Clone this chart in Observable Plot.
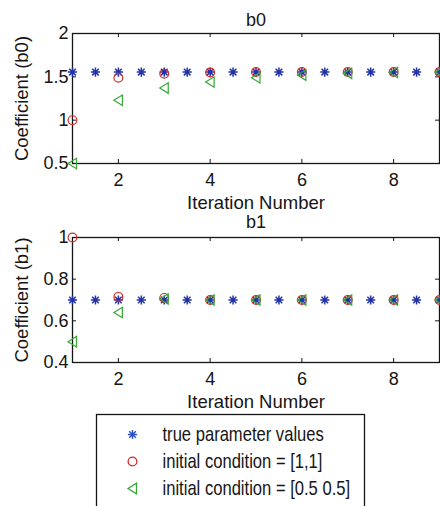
<!DOCTYPE html>
<html><head><meta charset="utf-8">
<script src="https://cdn.jsdelivr.net/npm/d3@7"></script>
<script src="https://cdn.jsdelivr.net/npm/@observablehq/plot@0.6"></script>
<style>
body{margin:0;background:#fff;}
#root{position:relative;width:440px;height:506px;overflow:hidden;background:#fff;}
#root > svg{position:absolute;left:0;}
</style></head><body><div id="root"></div>
<script>
// ---- data ----
const iterations = [1, 2, 3, 4, 5, 6, 7, 8, 9];
const truthSteps = [1, 1.5, 2, 2.5, 3, 3.5, 4, 4.5, 5, 5.5, 6, 6.5, 7, 7.5, 8, 8.5, 9];
const b0True = [1.555, 1.555, 1.555, 1.555, 1.555, 1.555, 1.555, 1.555, 1.555, 1.555, 1.555, 1.555, 1.555, 1.555, 1.555, 1.555, 1.555];
const b0Ic1 = [1.0, 1.49, 1.535, 1.55, 1.555, 1.555, 1.555, 1.555, 1.555];
const b0Ic2 = [0.5, 1.23, 1.37, 1.44, 1.49, 1.52, 1.54, 1.55, 1.555];
const b1True = [0.70, 0.70, 0.70, 0.70, 0.70, 0.70, 0.70, 0.70, 0.70, 0.70, 0.70, 0.70, 0.70, 0.70, 0.70, 0.70, 0.70];
const b1Ic1 = [1.0, 0.715, 0.71, 0.70, 0.70, 0.70, 0.70, 0.70, 0.70];
const b1Ic2 = [0.5, 0.64, 0.705, 0.70, 0.70, 0.70, 0.70, 0.70, 0.70];
const xTicks = [2, 4, 6, 8];
const b0Ticks = [0.5, 1, 1.5, 2];
const b1Ticks = [0.4, 0.6, 0.8, 1];
const legendLabels = ["true parameter values", "initial condition = [1,1]", "initial condition = [0.5 0.5]"];
const xLabel = "Iteration Number";

// ---- styles ----
const FONT = "'Liberation Sans', Arial, Helvetica, sans-serif";
const BLUE = "#2233a8", RED = "#d42a2a", GREEN = "#36a836", INK = "#151515";

const star8 = {draw(ctx, size) {
  const r = Math.sqrt(size / Math.PI), d = r * 0.72;
  ctx.moveTo(-r, 0); ctx.lineTo(r, 0);
  ctx.moveTo(0, -r); ctx.lineTo(0, r);
  ctx.moveTo(-d, -d); ctx.lineTo(d, d);
  ctx.moveTo(-d, d); ctx.lineTo(d, -d);
}};
const triLeft = {draw(ctx, size) {
  const r = Math.sqrt(size / Math.PI);
  ctx.moveTo(-r * 0.9, 0); ctx.lineTo(r * 0.8, -r * 1.05); ctx.lineTo(r * 0.8, r * 1.05); ctx.closePath();
}};

function panel({title, ylabel, domain, ticks, truth, ic1, ic2, top, height, mt, mb, titleDy}) {
  const ml = 72, mr = 1, width = 440;
  const ph = height - mt - mb, pw = width - ml - mr;
  const svg = Plot.plot({
    width, height, marginTop: mt, marginBottom: mb, marginLeft: ml, marginRight: mr,
    x: {domain: [1, 9]},
    y: {domain},
    style: `font-family: ${FONT}; font-size: 18px; color: ${INK}; background: transparent; overflow: visible;`,
    marks: [
      Plot.axisX(xTicks, {tickSize: 0, tickPadding: 10, fontSize: 18, fontFamily: FONT, label: null, tickFormat: d => String(d)}),
      Plot.axisY(ticks, {tickSize: 0, tickPadding: 4, fontSize: 18, fontFamily: FONT, label: null, tickFormat: d => String(d)}),
      Plot.tickX(xTicks, {x: d => d, insetTop: ph - 4, stroke: INK}),
      Plot.tickX(xTicks, {x: d => d, insetBottom: ph - 4, stroke: INK}),
      Plot.tickY(ticks, {y: d => d, insetRight: pw - 4, stroke: INK}),
      Plot.tickY(ticks, {y: d => d, insetLeft: pw - 4, stroke: INK}),
      Plot.frame({stroke: INK, strokeWidth: 1.3}),
      Plot.text([title], {text: d => d, frameAnchor: "top", dy: titleDy, lineAnchor: "bottom", fontSize: 18, fontFamily: FONT}),
      Plot.text([ylabel], {text: d => d, frameAnchor: "left", rotate: -90, dx: -50, textAnchor: "middle", lineAnchor: "middle", fontSize: 18.5, fontFamily: FONT}),
      Plot.text([xLabel], {text: d => d, frameAnchor: "bottom", dy: 45, lineAnchor: "bottom", fontSize: 18.5, fontFamily: FONT}),
      Plot.dot(truth, {x: truthSteps, y: truth, symbol: star8, r: 4.6, fill: "none", stroke: BLUE, strokeWidth: 1.5}),
      Plot.dot(ic1, {x: iterations, y: ic1, symbol: "circle", r: 4.4, fill: "none", stroke: RED, strokeWidth: 1.2}),
      Plot.dot(ic2, {x: iterations, y: ic2, symbol: triLeft, r: 5, fill: "none", stroke: GREEN, strokeWidth: 1.2})
    ]
  });
  svg.style.top = top + "px";
  return svg;
}

const root = document.getElementById("root");
root.appendChild(panel({title: "b0", ylabel: "Coefficient (b0)", domain: [0.5, 2], ticks: b0Ticks,
  truth: b0True, ic1: b0Ic1, ic2: b0Ic2, top: 0, height: 215, mt: 33, mb: 52, titleDy: -8}));
root.appendChild(panel({title: "b1", ylabel: "Coefficient (b1)", domain: [0.4, 1], ticks: b1Ticks,
  truth: b1True, ic1: b1Ic1, ic2: b1Ic2, top: 200, height: 214, mt: 37, mb: 52, titleDy: -10}));

const legend = Plot.plot({
  width: 268, height: 100, margin: 0,
  x: {domain: [0, 1], axis: null},
  y: {type: "point", domain: legendLabels, range: [19, 74], padding: 0, axis: null},
  style: `font-family: ${FONT}; font-size: 20px; color: ${INK}; background: #fff; overflow: visible;`,
  marks: [
    Plot.frame({stroke: INK, strokeWidth: 1.3}),
    Plot.dot([legendLabels[0]], {y: d => d, frameAnchor: "left", dx: 36, symbol: star8, r: 4.6, fill: "none", stroke: "#3050c8", strokeWidth: 1.4}),
    Plot.dot([legendLabels[1]], {y: d => d, frameAnchor: "left", dx: 36, symbol: "circle", r: 4.4, fill: "none", stroke: RED, strokeWidth: 1.3}),
    Plot.dot([legendLabels[2]], {y: d => d, frameAnchor: "left", dx: 36, symbol: triLeft, r: 5, fill: "none", stroke: GREEN, strokeWidth: 1.3}),
    Plot.text(legendLabels, {y: d => d, text: d => d, frameAnchor: "left", dx: 66, textAnchor: "start", fontSize: 20, fontFamily: FONT})
  ]
});
// the reference legend uses a narrow face: compress the text horizontally
d3.select(legend).selectAll("text").each(function() {
  const t = this.getAttribute("transform") || "";
  this.setAttribute("transform", t + " scale(0.83,1)");
});
legend.style.left = "96px";
legend.style.top = "414px";
root.appendChild(legend);
</script></body></html>
